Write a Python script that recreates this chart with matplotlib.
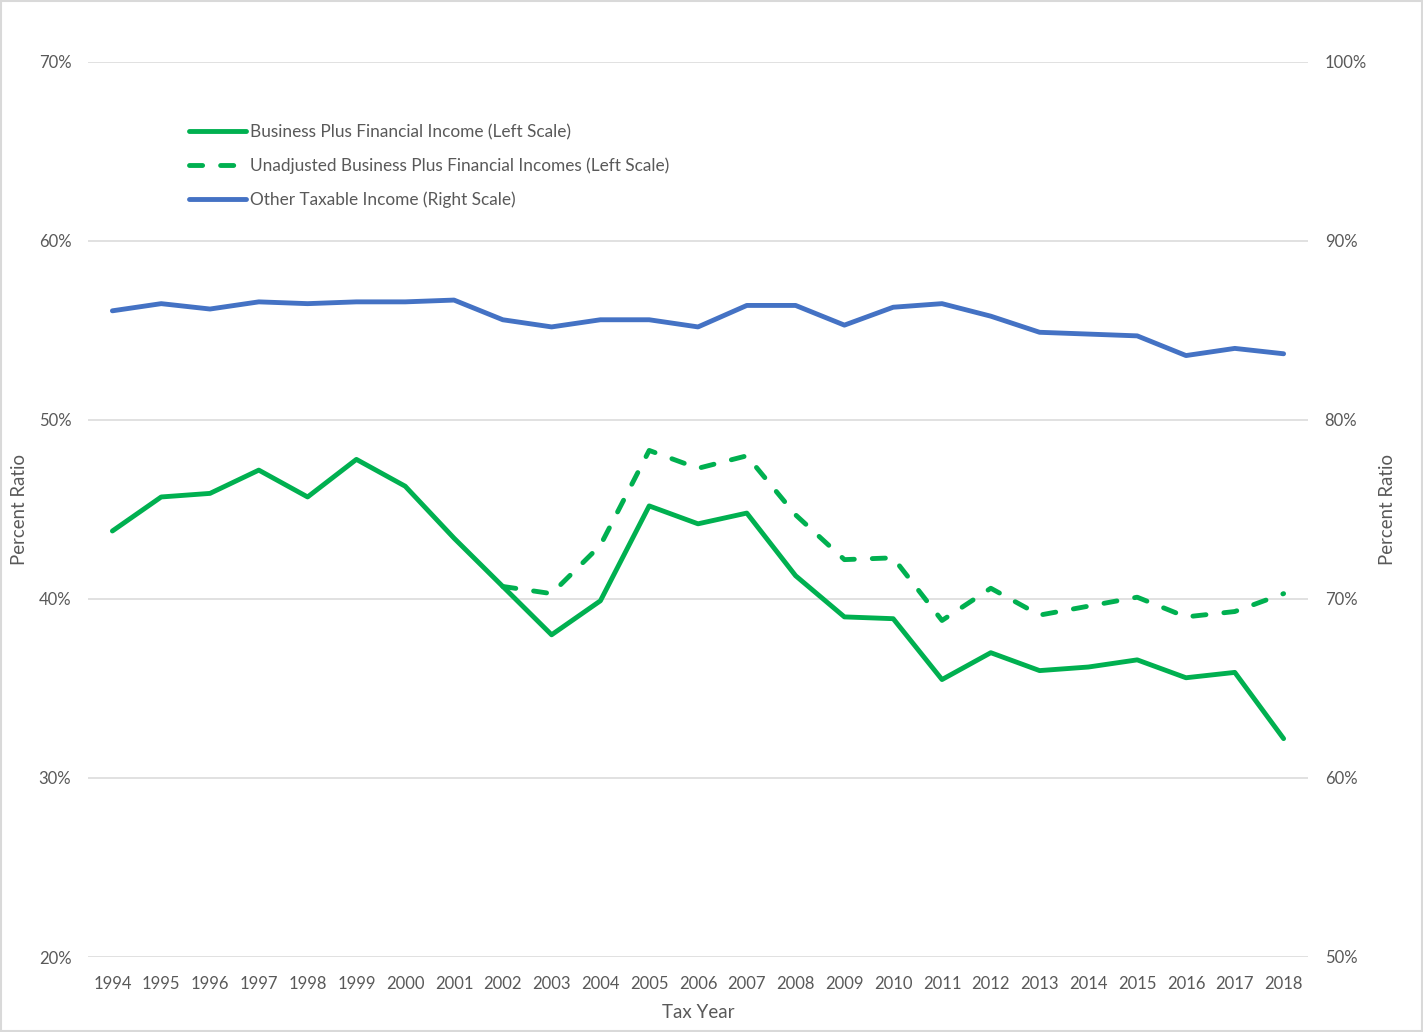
import numpy as np
import matplotlib.pyplot as plt
from matplotlib.ticker import PercentFormatter
from matplotlib.patches import Rectangle

plt.rcParams['font.family'] = ['Lato', 'DejaVu Sans']

# Data
years = list(range(1994, 2019))

business_financial = [43.8, 45.7, 45.9, 47.2, 45.7, 47.8, 46.3, 43.4, 40.7, 38.0,
                      39.9, 45.2, 44.2, 44.8, 41.3, 39.0, 38.9, 35.5, 37.0, 36.0,
                      36.2, 36.6, 35.6, 35.9, 32.2]

# unadjusted series only starts in 2002
unadj_years = list(range(2002, 2019))
unadjusted = [40.7, 40.3, 43.0, 48.3, 47.3, 48.0, 44.7, 42.2, 42.3, 38.8,
              40.6, 39.1, 39.6, 40.1, 39.0, 39.3, 40.3]

other_taxable = [86.1, 86.5, 86.2, 86.6, 86.5, 86.6, 86.6, 86.7, 85.6, 85.2,
                 85.6, 85.6, 85.2, 86.4, 86.4, 85.3, 86.3, 86.5, 85.8, 84.9,
                 84.8, 84.7, 83.6, 84.0, 83.7]

label_bf = 'Business Plus Financial Income (Left Scale)'
label_un = 'Unadjusted Business Plus Financial Incomes (Left Scale)'
label_ot = 'Other Taxable Income (Right Scale)'

green = '#00b050'
blue = '#4472c4'
grey = '#595959'
grid_col = '#d9d9d9'

fig = plt.figure(figsize=(14.23, 10.32), dpi=100)
ax = fig.add_axes([88 / 1423, 1 - 957 / 1032, 1220 / 1423, 895 / 1032])
ax2 = ax.twinx()

l1, = ax.plot(years, business_financial, color=green, lw=3.5, solid_capstyle='round',
              solid_joinstyle='round', label=label_bf)
l2, = ax.plot(unadj_years, unadjusted, color=green, lw=3.5, dashes=(2.7, 3.7),
              dash_capstyle='round', dash_joinstyle='round', label=label_un)
l3, = ax2.plot(years, other_taxable, color=blue, lw=3.5, solid_capstyle='round',
               solid_joinstyle='round', label=label_ot)

ax.set_xlim(1993.5, 2018.5)
ax.set_ylim(20, 70)
ax2.set_ylim(50, 100)
ax.set_yticks(np.arange(20, 71, 10))
ax2.set_yticks(np.arange(50, 101, 10))
ax.yaxis.set_major_formatter(PercentFormatter(decimals=0))
ax2.yaxis.set_major_formatter(PercentFormatter(decimals=0))
ax.set_xticks(years)
ax.set_xticklabels([str(y) for y in years])

ax.grid(axis='y', color=grid_col, lw=1.1)
ax.set_axisbelow(True)
for a in (ax, ax2):
    for s in a.spines.values():
        s.set_visible(False)
    a.tick_params(length=0, labelsize=12, labelcolor=grey)
ax.tick_params(axis='y', pad=12)
ax2.tick_params(axis='y', pad=12)
ax.tick_params(axis='x', pad=13.5)

ax.set_xlabel('Tax Year', fontsize=13.5, color=grey, labelpad=9)
ax.set_ylabel('Percent Ratio', fontsize=13.4, color=grey)
ax2.set_ylabel('Percent Ratio', fontsize=13.4, color=grey, rotation=90)
ax.yaxis.set_label_coords(-60 / 1220, 0.5)
ax2.yaxis.set_label_coords(1 + 71 / 1220, 0.5)

leg = ax.legend(handles=[l1, l2, l3], loc='upper left',
                bbox_to_anchor=(94 / 1220, 1 - 55 / 895), frameon=False,
                fontsize=12.4, handlelength=3.3, handletextpad=0.25,
                labelspacing=1.02, borderaxespad=0)
for t in leg.get_texts():
    t.set_color(grey)

# chart border
fig.patches.append(Rectangle((0.0005, 0.0005), 0.999, 0.999, transform=fig.transFigure,
                             fill=False, edgecolor=grid_col, lw=1.5))

plt.savefig('out.png', dpi=100)
